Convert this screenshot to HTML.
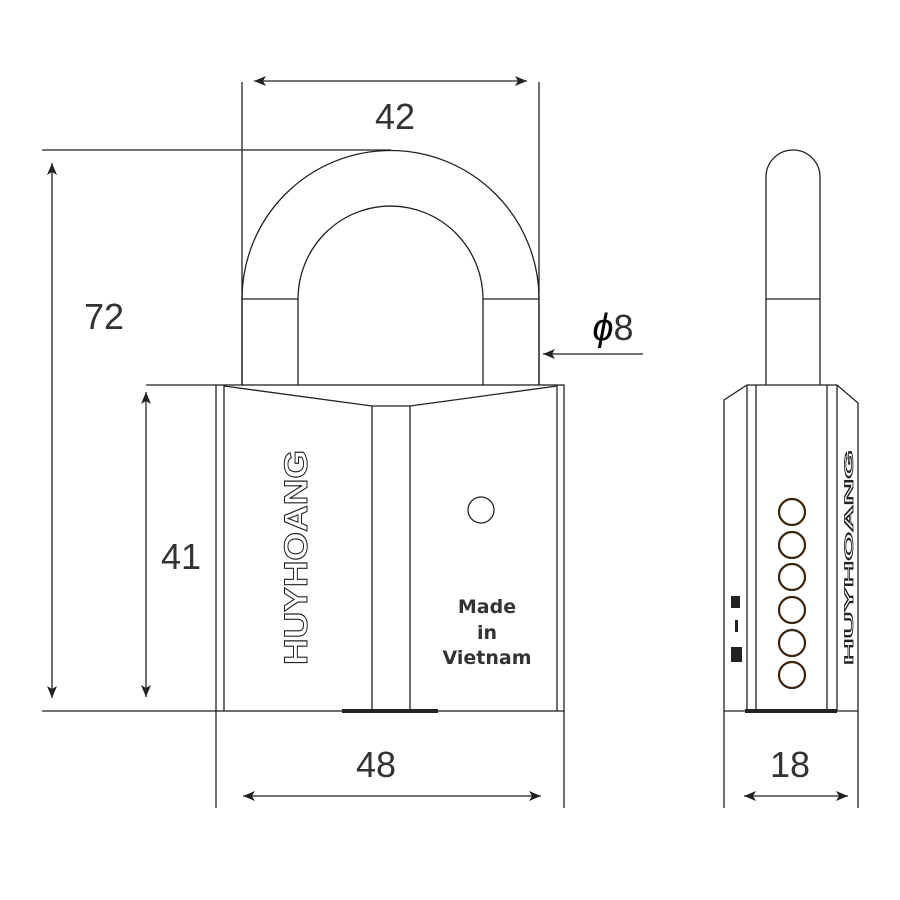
<!DOCTYPE html>
<html><head><style>body{margin:0;background:#fff}svg{display:block}</style></head><body>
<svg width="900" height="900" viewBox="0 0 900 900" xmlns="http://www.w3.org/2000/svg" font-family="Liberation Sans, sans-serif">
<defs>
<marker id="a" viewBox="0 0 12 10" refX="12" refY="5" markerWidth="12" markerHeight="10" markerUnits="userSpaceOnUse" orient="auto-start-reverse"><path d="M0,0 L12,5 L0,10 L3,5 Z" fill="#222"/></marker>
</defs>
<g stroke="#222" stroke-width="1.3" fill="none">
<line x1="254" y1="81" x2="527" y2="81" marker-start="url(#a)" marker-end="url(#a)"/>
<line x1="242" y1="82" x2="242" y2="385"/>
<line x1="539" y1="82" x2="539" y2="385"/>
<line x1="42" y1="150" x2="391" y2="150"/>
<line x1="52" y1="163" x2="52" y2="698" marker-start="url(#a)" marker-end="url(#a)"/>
<line x1="42" y1="711" x2="216" y2="711"/>
<line x1="146" y1="385" x2="216" y2="385"/>
<line x1="146" y1="392" x2="146" y2="697" marker-start="url(#a)" marker-end="url(#a)"/>
<line x1="216" y1="711" x2="216" y2="808"/>
<line x1="564" y1="711" x2="564" y2="808"/>
<line x1="243" y1="796" x2="541" y2="796" marker-start="url(#a)" marker-end="url(#a)"/>
<line x1="643" y1="354" x2="543" y2="354" marker-end="url(#a)"/>
<line x1="724" y1="711" x2="724" y2="808"/>
<line x1="858" y1="711" x2="858" y2="808"/>
<line x1="744" y1="796" x2="848" y2="796" marker-start="url(#a)" marker-end="url(#a)"/>
<path d="M242,385 L242,299 A148.5,148.5 0 0 1 539,299 L539,385"/>
<path d="M298,385 L298,299 A92.5,93 0 0 1 483,299 L483,385"/>
<line x1="242" y1="299" x2="298" y2="299"/>
<line x1="483" y1="299" x2="539" y2="299"/>
<rect x="216" y="385" width="348" height="326"/>
<line x1="224" y1="385" x2="224" y2="711"/>
<line x1="557" y1="385" x2="557" y2="711"/>
<path d="M224,386 L372,406 L410,406 L557,386"/>
<line x1="372" y1="406" x2="372" y2="711"/>
<line x1="410" y1="406" x2="410" y2="711"/>
<circle cx="481" cy="510" r="13"/>
<path d="M766,385 L766,177 A27,27 0 0 1 820,177 L820,385"/>
<line x1="766" y1="299" x2="820" y2="299"/>
<path d="M724,711 L724,400 L747,385 L837,385 L858,403 L858,711 Z"/>
<line x1="747" y1="385" x2="747" y2="711"/>
<line x1="756" y1="385" x2="756" y2="711"/>
<line x1="827" y1="385" x2="827" y2="711"/>
<line x1="837" y1="385" x2="837" y2="711"/>
</g>
<rect x="342" y="709" width="96" height="4" fill="#222"/>
<rect x="745" y="709" width="92" height="4" fill="#222"/>
<g stroke="#3a2410" stroke-width="2.2" fill="none">
<circle cx="792" cy="512" r="13"/><circle cx="792" cy="545" r="13"/><circle cx="792" cy="577" r="13"/>
<circle cx="792" cy="610" r="13"/><circle cx="792" cy="643" r="13"/><circle cx="792" cy="675" r="13"/>
</g>
<rect x="731" y="596" width="9" height="12" fill="#222"/>
<rect x="735" y="620" width="3" height="12" fill="#222"/>
<rect x="731" y="647" width="11" height="15" fill="#222"/>
<text transform="translate(853,665) rotate(-90)" font-size="12" font-weight="bold" textLength="215" lengthAdjust="spacingAndGlyphs" fill="none" stroke="#222" stroke-width="0.8">HUYHOANG</text>
<g fill="#333" font-size="36">
<text x="395" y="129" text-anchor="middle">42</text>
<text x="104" y="329" text-anchor="middle">72</text>
<text x="181" y="569" text-anchor="middle">41</text>
<text x="376" y="777" text-anchor="middle">48</text>
<text x="790" y="777" text-anchor="middle">18</text>
<text x="613" y="340" text-anchor="middle"><tspan font-size="38" fill="#000" font-style="italic">ϕ</tspan>8</text>
</g>
<text transform="translate(307,665) rotate(-90)" font-size="32" font-weight="bold" textLength="215" lengthAdjust="spacingAndGlyphs" fill="#fff" stroke="#222" stroke-width="1">HUYHOANG</text>
<g font-family="DejaVu Sans, sans-serif" font-weight="bold" font-size="19" fill="#333" text-anchor="middle">
<text x="487" y="613">Made</text>
<text x="487" y="639">in</text>
<text x="487" y="664">Vietnam</text>
</g>
</svg>
</body></html>
